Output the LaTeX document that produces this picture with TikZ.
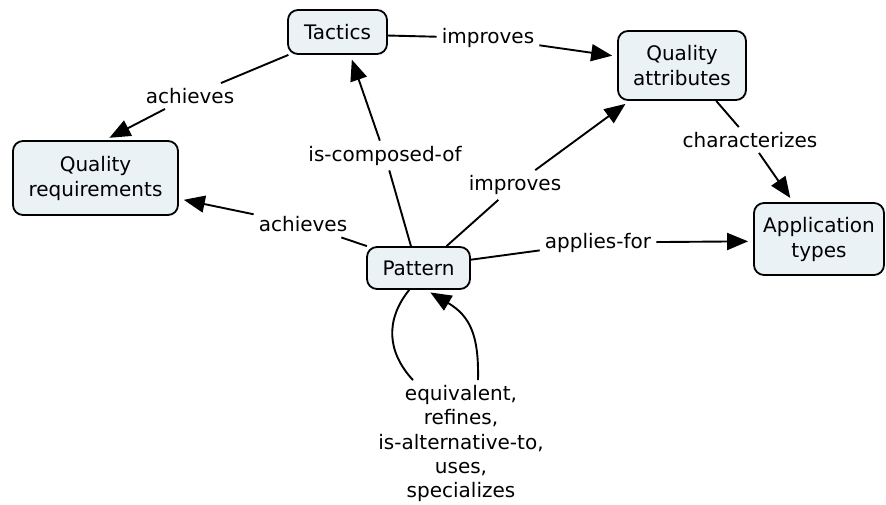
\documentclass[tikz,border=0pt]{standalone}
\usepackage{fontspec}
\setmainfont{DejaVu Sans}
\usetikzlibrary{arrows.meta}
\definecolor{conceptfill}{RGB}{234,242,246}

\begin{document}
\begin{tikzpicture}[x=1pt,y=-1pt]
\tikzset{
  concept/.style={draw, line width=1.8pt, rounded corners=10pt, fill=conceptfill,
    align=center, inner sep=0pt, font=\fontsize{20}{25}\selectfont},
  linkname/.style={inner sep=5pt, align=center, font=\fontsize{20}{24.25}\selectfont},
  link/.style={line width=1.9pt},
  linkto/.style={line width=1.9pt, -{Triangle[length=21pt,width=17pt]}, shorten >=5pt}
}
\useasboundingbox (0,0) rectangle (886,504);

\node[concept, minimum width=99pt, minimum height=44pt] (tactics) at (337.5,32) {Tactics};
\node[concept, minimum width=128pt, minimum height=69pt] (qattr) at (682,65.5) {Quality\\attributes};
\node[concept, minimum width=165pt, minimum height=74pt] (qreq) at (95.5,178) {Quality\\requirements};
\node[concept, minimum width=130pt, minimum height=72pt] (apptypes) at (819,239) {Application\\types};
\node[concept, minimum width=103pt, minimum height=42pt] (pattern) at (418.5,268) {Pattern};

\node[linkname] (achTop) at (190,96) {achieves};
\node[linkname] (impTop) at (488,38) {improves};
\node[linkname] (composed) at (385,155.5) {is-composed-of};
\node[linkname] (impLow) at (515,185) {improves};
\node[linkname] (charact) at (750,140) {characterizes};
\node[linkname] (achLow) at (303,224.5) {achieves};
\node[linkname] (applies) at (598,242.5) {applies-for};
\node[linkname] (relations) at (461,443.5) {equivalent,\\refines,\\is-alternative-to,\\uses,\\specializes};

\draw[link] (tactics.205) -- (achTop);
\draw[linkto] (achTop) -- (qreq.76);
\draw[link] (tactics.-4) -- (impTop);
\draw[linkto] (impTop) -- (qattr.172);
\draw[link] (pattern.109) -- (composed);
\draw[linkto] (composed) -- (tactics.-61);
\draw[link] (pattern.38) -- (impLow);
\draw[linkto] (impLow) -- (qattr.214);
\draw[link] (qattr.-46) -- (charact);
\draw[linkto] (charact) -- (apptypes.125);
\draw[link] (pattern.157) -- (achLow);
\draw[linkto] (achLow) -- (qreq.-14);
\draw[link] (pattern.9) -- (applies);
\draw[linkto] (applies) -- (apptypes.182);

\draw[link] (pattern.247) .. controls (385,320) and (387,352) .. ([xshift=-48pt]relations.north);
\draw[linkto] ([xshift=17pt]relations.north) .. controls (479,335) and (470,316) .. (pattern.289);
\end{tikzpicture}
\end{document}
